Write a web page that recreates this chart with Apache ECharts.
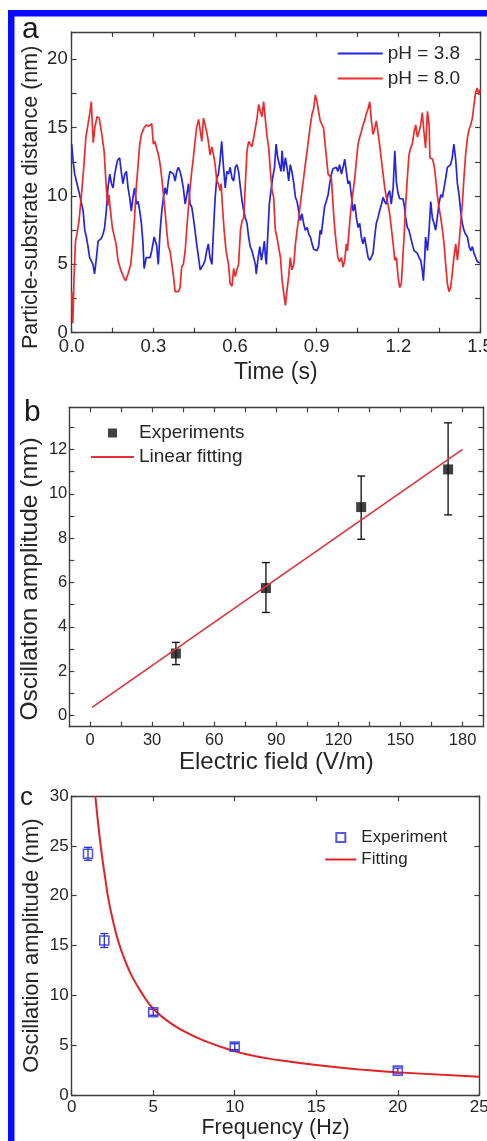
<!DOCTYPE html>
<html>
<head>
<meta charset="utf-8">
<script src="https://cdn.jsdelivr.net/npm/echarts@6/dist/echarts.min.js"></script>
<style>
  html, body { margin: 0; padding: 0; background: #ffffff; }
  #chart { width: 487px; height: 1141px; }
</style>
</head>
<body>
<div id="chart"></div>
<script>
// ---------- (a) particle–substrate distance vs time ----------
const tracePH38 = [
  [0.000,13.8],[0.005,12.6],[0.011,11.6],[0.017,11.5],[0.023,10.6],[0.029,10.1],[0.035,10.1],[0.042,8.9],
  [0.048,7.5],[0.054,7.0],[0.060,6.3],[0.066,5.5],[0.072,5.5],[0.078,5.0],[0.084,4.3],[0.091,5.5],
  [0.097,6.7],[0.103,6.7],[0.109,6.9],[0.115,7.2],[0.121,7.7],[0.127,8.9],[0.133,10.6],[0.140,11.6],
  [0.146,10.9],[0.152,10.6],[0.158,11.6],[0.168,12.6],[0.176,12.8],[0.182,11.8],[0.188,10.9],[0.195,11.6],
  [0.201,11.8],[0.207,10.6],[0.213,9.9],[0.219,8.9],[0.225,9.9],[0.231,10.6],[0.238,9.4],[0.244,9.6],
  [0.250,8.9],[0.256,8.0],[0.262,6.5],[0.266,4.7],[0.274,5.5],[0.280,5.4],[0.288,5.5],[0.294,6.0],
  [0.303,7.0],[0.312,6.4],[0.318,5.0],[0.325,7.5],[0.331,8.9],[0.337,9.9],[0.343,10.6],[0.349,10.1],
  [0.355,11.1],[0.361,11.8],[0.368,11.7],[0.374,11.6],[0.380,11.1],[0.386,11.8],[0.392,12.1],[0.398,11.8],
  [0.404,11.3],[0.410,10.6],[0.417,9.4],[0.423,10.1],[0.429,10.9],[0.435,9.4],[0.441,9.2],[0.447,8.4],
  [0.453,7.5],[0.459,6.5],[0.466,5.5],[0.472,4.6],[0.478,4.5],[0.484,5.0],[0.490,5.3],[0.496,6.0],
  [0.502,6.5],[0.508,5.5],[0.515,5.0],[0.521,7.5],[0.527,9.9],[0.533,11.3],[0.539,11.6],[0.545,12.6],
  [0.551,14.0],[0.557,12.3],[0.564,10.6],[0.570,11.8],[0.576,11.6],[0.582,12.1],[0.589,11.3],[0.595,11.1],
  [0.601,12.1],[0.607,12.3],[0.613,11.8],[0.620,10.6],[0.626,9.6],[0.632,8.9],[0.638,8.4],[0.644,8.0],
  [0.650,7.0],[0.656,6.3],[0.662,6.0],[0.669,6.0],[0.675,5.0],[0.678,4.3],[0.685,5.5],[0.691,6.3],
  [0.697,5.3],[0.703,6.0],[0.708,6.7],[0.712,5.5],[0.715,5.0],[0.720,7.0],[0.726,9.4],[0.732,10.4],
  [0.738,11.3],[0.745,12.1],[0.751,13.8],[0.757,12.8],[0.763,12.3],[0.769,11.8],[0.773,13.3],[0.779,11.8],
  [0.785,12.8],[0.791,12.1],[0.797,11.1],[0.803,12.3],[0.809,11.8],[0.816,10.9],[0.822,9.9],[0.828,9.6],
  [0.834,8.9],[0.840,8.2],[0.846,8.7],[0.852,8.0],[0.858,7.5],[0.865,7.7],[0.871,7.2],[0.877,7.0],
  [0.883,6.5],[0.889,6.1],[0.895,6.0],[0.901,6.0],[0.907,6.3],[0.913,7.5],[0.917,7.2],[0.923,8.2],
  [0.929,9.2],[0.935,9.6],[0.942,10.1],[0.948,10.9],[0.954,11.6],[0.960,12.0],[0.966,12.1],[0.972,12.1],
  [0.978,11.8],[0.984,12.3],[0.991,11.6],[0.997,12.1],[1.003,12.7],[1.009,11.8],[1.015,10.9],[1.021,11.1],
  [1.027,10.1],[1.034,8.9],[1.040,9.4],[1.046,8.4],[1.052,7.7],[1.058,8.0],[1.064,7.0],[1.070,6.5],
  [1.076,7.0],[1.082,6.3],[1.089,5.5],[1.095,5.3],[1.101,5.3],[1.107,5.8],[1.113,7.0],[1.119,8.0],
  [1.125,8.4],[1.131,8.9],[1.138,9.4],[1.144,9.9],[1.150,9.6],[1.156,9.4],[1.162,10.1],[1.168,10.4],
  [1.174,9.4],[1.181,10.6],[1.187,13.3],[1.193,11.0],[1.199,10.2],[1.205,9.8],[1.211,9.7],[1.217,9.8],
  [1.221,9.4],[1.227,8.4],[1.233,7.7],[1.239,7.5],[1.245,7.0],[1.251,6.5],[1.258,6.0],[1.264,5.9],
  [1.270,5.8],[1.276,5.5],[1.282,5.3],[1.288,4.6],[1.292,3.8],[1.297,5.5],[1.300,7.0],[1.307,6.0],
  [1.313,7.5],[1.319,9.6],[1.325,8.4],[1.331,8.0],[1.337,7.5],[1.343,8.4],[1.349,9.4],[1.356,10.1],
  [1.362,9.9],[1.368,10.6],[1.374,11.3],[1.380,12.1],[1.386,12.1],[1.392,12.3],[1.398,12.8],[1.404,13.8],
  [1.411,12.6],[1.417,10.9],[1.423,10.1],[1.429,8.9],[1.435,8.0],[1.441,7.5],[1.447,7.2],[1.454,7.0],
  [1.460,6.3],[1.466,6.0],[1.472,6.3],[1.478,5.8],[1.484,5.5],[1.490,5.2],[1.500,5.1]
];
const tracePH80 = [
  [0.000,3.0],[0.004,0.7],[0.009,4.3],[0.014,6.7],[0.020,7.3],[0.027,8.2],[0.033,9.5],[0.038,10.6],
  [0.045,12.3],[0.052,14.3],[0.058,15.0],[0.066,16.0],[0.072,16.9],[0.079,13.9],[0.085,15.0],[0.093,15.8],
  [0.101,15.7],[0.110,14.6],[0.119,13.3],[0.127,10.6],[0.133,9.3],[0.137,10.1],[0.141,9.2],[0.150,7.6],
  [0.163,6.5],[0.170,5.3],[0.180,4.6],[0.192,4.0],[0.198,3.8],[0.207,4.3],[0.217,5.0],[0.224,6.5],
  [0.231,8.4],[0.237,10.6],[0.244,12.3],[0.250,13.8],[0.256,14.5],[0.266,15.0],[0.274,15.2],[0.282,15.1],
  [0.288,15.2],[0.294,15.3],[0.300,13.8],[0.306,14.0],[0.312,13.5],[0.319,13.0],[0.325,12.3],[0.331,11.3],
  [0.337,10.1],[0.343,8.9],[0.349,7.5],[0.355,6.3],[0.361,6.0],[0.368,5.0],[0.374,4.1],[0.380,3.0],
  [0.386,3.1],[0.392,3.0],[0.398,3.3],[0.404,4.8],[0.410,5.0],[0.417,6.0],[0.423,7.7],[0.429,9.2],
  [0.435,10.6],[0.441,11.8],[0.447,12.8],[0.453,14.0],[0.459,15.0],[0.466,15.6],[0.472,15.5],[0.478,14.0],
  [0.484,15.7],[0.490,15.6],[0.496,14.7],[0.502,14.0],[0.508,13.0],[0.515,13.6],[0.521,13.0],[0.527,12.3],
  [0.533,11.1],[0.539,10.9],[0.545,10.4],[0.549,10.9],[0.554,9.2],[0.560,7.5],[0.567,6.0],[0.576,5.0],
  [0.582,3.6],[0.589,3.4],[0.595,4.7],[0.601,4.1],[0.607,4.6],[0.613,5.0],[0.620,7.5],[0.626,8.2],
  [0.632,8.4],[0.638,10.9],[0.644,13.3],[0.650,14.0],[0.656,13.8],[0.662,13.6],[0.669,14.3],[0.675,15.0],
  [0.681,15.7],[0.687,16.7],[0.693,16.2],[0.699,15.8],[0.705,16.9],[0.711,15.7],[0.718,14.3],[0.724,13.5],
  [0.730,11.8],[0.736,10.4],[0.742,9.9],[0.748,7.5],[0.754,7.0],[0.760,6.9],[0.767,5.5],[0.773,3.8],
  [0.779,2.9],[0.785,2.0],[0.791,3.1],[0.797,4.1],[0.803,5.5],[0.809,4.6],[0.816,5.0],[0.822,6.5],
  [0.828,7.5],[0.834,8.4],[0.840,9.4],[0.846,10.4],[0.852,11.3],[0.858,12.3],[0.865,13.3],[0.871,14.3],
  [0.877,15.2],[0.883,16.0],[0.889,16.4],[0.895,17.4],[0.901,16.9],[0.907,16.2],[0.913,15.5],[0.919,15.5],
  [0.925,15.0],[0.930,14.0],[0.936,12.8],[0.942,11.6],[0.948,11.5],[0.954,11.3],[0.960,9.4],[0.966,7.7],
  [0.972,6.5],[0.978,5.5],[0.984,5.2],[0.991,5.5],[0.997,4.8],[1.003,5.3],[1.009,6.5],[1.013,6.0],
  [1.019,7.5],[1.025,8.9],[1.031,9.9],[1.040,11.3],[1.046,12.6],[1.052,13.8],[1.058,14.3],[1.064,14.7],
  [1.070,15.2],[1.076,15.5],[1.082,16.0],[1.089,16.4],[1.095,16.9],[1.101,15.5],[1.107,14.5],[1.113,14.9],
  [1.119,15.5],[1.125,14.7],[1.131,13.8],[1.138,12.6],[1.144,11.6],[1.150,10.6],[1.156,9.9],[1.162,9.4],
  [1.168,8.7],[1.174,7.7],[1.181,6.5],[1.187,5.3],[1.193,5.5],[1.199,4.1],[1.205,3.3],[1.211,3.6],
  [1.215,5.0],[1.221,7.0],[1.227,9.4],[1.233,11.3],[1.239,13.0],[1.245,13.5],[1.251,13.8],[1.258,14.7],
  [1.264,15.2],[1.270,14.3],[1.276,14.7],[1.282,15.2],[1.288,16.1],[1.294,14.7],[1.300,13.5],[1.307,16.2],
  [1.313,15.2],[1.316,12.8],[1.325,12.7],[1.331,12.3],[1.337,11.3],[1.343,10.1],[1.349,9.2],[1.356,8.4],
  [1.362,7.5],[1.368,6.5],[1.374,5.0],[1.380,3.6],[1.386,3.0],[1.392,3.3],[1.398,4.3],[1.404,5.5],
  [1.411,6.5],[1.417,5.3],[1.423,6.5],[1.429,8.0],[1.435,9.4],[1.441,11.3],[1.447,13.0],[1.454,14.3],
  [1.460,14.9],[1.466,15.2],[1.472,15.7],[1.478,16.7],[1.484,17.6],[1.490,17.9],[1.496,17.4],[1.500,17.8]
];
const timeLabels = [0, 0.3, 0.6, 0.9, 1.2, 1.5];
const timeTicks = [0, 0.15, 0.3, 0.45, 0.6, 0.75, 0.9, 1.05, 1.2, 1.35, 1.5];
const distanceLabels = [0, 5, 10, 15, 20];
const distanceTicks = [0, 2.5, 5, 7.5, 10, 12.5, 15, 17.5, 20];

// ---------- (b) oscillation amplitude vs electric field ----------
const fieldValues = [41.5, 85, 131, 173];
const fieldAmplitude = [2.8, 5.75, 9.4, 11.1];
const fieldAmpLow = [2.3, 4.65, 7.95, 9.05];
const fieldAmpHigh = [3.3, 6.9, 10.8, 13.2];
const linearFitField = [1, 180];
const linearFitAmp = [0.37, 12.0];
const fieldLabels = [0, 30, 60, 90, 120, 150, 180];
const fieldTicks = [0, 15, 30, 45, 60, 75, 90, 105, 120, 135, 150, 165, 180];
const ampLabelsB = [0, 2, 4, 6, 8, 10, 12];
const ampTicksB = [0, 1, 2, 3, 4, 5, 6, 7, 8, 9, 10, 11, 12, 13];

// ---------- (c) oscillation amplitude vs frequency ----------
const frequency = [1, 2, 5, 10, 20];
const freqAmplitude = [24.2, 15.5, 8.3, 4.85, 2.45];
const freqAmpError = [0.65, 0.7, 0.3, 0.3, 0.25];
const fitFrequency = [1.45, 1.65, 1.85, 2.06, 2.26, 2.57, 2.88, 3.29, 3.70, 4.31, 4.92, 5.74, 6.76, 8.19, 9.97, 11.26, 12.28, 15, 18.1, 20, 25];
const fitAmplitude = [30, 26.8, 24.1, 21.7, 19.6, 17.2, 15.3, 13.4, 11.9, 10.2, 8.8, 7.6, 6.5, 5.4, 4.4, 3.9, 3.6, 3.0, 2.5, 2.27, 1.82];
const freqLabels = [0, 5, 10, 15, 20, 25];
const ampLabelsC = [0, 5, 10, 15, 20, 25, 30];

// ---------- styling ----------
const FONT = '"Liberation Sans", Arial, sans-serif';
const AXIS_COLOR = '#3e3e3e';
const TEXT_COLOR = '#262626';
const BLUE = '#2424e4';
const RED = '#ef2a2a';
const FIT_RED = '#e1303a';
const MARKER_BLUE = '#2a2ae0';
const SQUARE_ICON = 'path://M0,0H10V10H0Z';

const zip = (xs, ys) => xs.map((x, i) => [x, ys[i]]);

function frameAxis(o) {
  const ax = {
    type: 'value',
    gridIndex: o.grid,
    position: o.position,
    min: o.min,
    max: o.max,
    axisLine: { show: true, onZero: false, lineStyle: { color: AXIS_COLOR, width: 1.4 } },
    axisTick: { show: true, inside: true, length: 5, customValues: o.ticks,
                lineStyle: { color: AXIS_COLOR, width: 1.2 } },
    splitLine: { show: false },
    axisLabel: { show: false }
  };
  if (o.labels) {
    ax.axisLabel = {
      show: true, customValues: o.labels, formatter: o.format,
      fontSize: o.fontSize, margin: o.margin, color: TEXT_COLOR, fontFamily: FONT
    };
  }
  if (o.name) {
    ax.name = o.name;
    ax.nameLocation = 'middle';
    ax.nameGap = o.nameGap;
    ax.nameMoveOverlap = false;
    ax.nameTextStyle = { fontSize: o.nameSize, color: TEXT_COLOR, fontFamily: FONT,
                         padding: o.namePadding || 0 };
  }
  return ax;
}

const intFmt = v => String(Math.round(v));

function errorBars(color, capHalf, width) {
  return function (params, api) {
    const x = api.value(0);
    const top = api.coord([x, api.value(2)]);
    const bot = api.coord([x, api.value(1)]);
    const st = { stroke: color, lineWidth: width };
    return {
      type: 'group',
      children: [
        { type: 'line', shape: { x1: top[0], y1: top[1], x2: bot[0], y2: bot[1] }, style: st },
        { type: 'line', shape: { x1: top[0] - capHalf, y1: top[1], x2: top[0] + capHalf, y2: top[1] }, style: st },
        { type: 'line', shape: { x1: bot[0] - capHalf, y1: bot[1], x2: bot[0] + capHalf, y2: bot[1] }, style: st }
      ]
    };
  };
}

// line-only legend entries: hide the marker that line series add to their icon
const lineOnly = name => ({ name, itemStyle: { opacity: 0 } });

const chart = echarts.init(document.getElementById('chart'), null, { renderer: 'canvas' });

chart.setOption({
  animation: false,
  backgroundColor: '#ffffff',
  textStyle: { fontFamily: FONT },
  grid: [
    { left: 71.7, top: 32, width: 408.3, height: 300.7, outerBoundsMode: 'none' },
    { left: 69.3, top: 407.3, width: 414, height: 319.4, outerBoundsMode: 'none' },
    { left: 71.7, top: 796, width: 407.6, height: 299, outerBoundsMode: 'none' }
  ],
  xAxis: [
    frameAxis({ grid: 0, position: 'bottom', min: 0, max: 1.5, ticks: timeTicks, labels: timeLabels,
                format: v => v.toFixed(1), fontSize: 18.5, margin: 5,
                name: 'Time (s)', nameGap: 28, nameSize: 23 }),
    frameAxis({ grid: 0, position: 'top', min: 0, max: 1.5, ticks: timeTicks }),
    frameAxis({ grid: 1, position: 'bottom', min: -10, max: 190, ticks: fieldTicks, labels: fieldLabels,
                format: intFmt, fontSize: 16.5, margin: 5,
                name: 'Electric field (V/m)', nameGap: 24, nameSize: 24 }),
    frameAxis({ grid: 1, position: 'top', min: -10, max: 190, ticks: fieldTicks }),
    frameAxis({ grid: 2, position: 'bottom', min: 0, max: 25, ticks: freqLabels, labels: freqLabels,
                format: intFmt, fontSize: 17, margin: 4,
                name: 'Frequency (Hz)', nameGap: 22, nameSize: 21.5 }),
    frameAxis({ grid: 2, position: 'top', min: 0, max: 25, ticks: freqLabels })
  ],
  yAxis: [
    frameAxis({ grid: 0, position: 'left', min: 0, max: 22, ticks: distanceTicks, labels: distanceLabels,
                format: intFmt, fontSize: 18.5, margin: 4,
                name: 'Particle-substrate distance (nm)', nameGap: 30, nameSize: 21.5,
                namePadding: [0, 30, 0, 0] }),
    frameAxis({ grid: 0, position: 'right', min: 0, max: 22, ticks: distanceTicks }),
    frameAxis({ grid: 1, position: 'left', min: -0.5, max: 13.9, ticks: ampTicksB, labels: ampLabelsB,
                format: intFmt, fontSize: 16.5, margin: 2,
                name: 'Oscillation amplitude (nm)', nameGap: 27, nameSize: 24.5,
                namePadding: [0, 24, 0, 0] }),
    frameAxis({ grid: 1, position: 'right', min: -0.5, max: 13.9, ticks: ampTicksB }),
    frameAxis({ grid: 2, position: 'left', min: 0, max: 30, ticks: ampLabelsC, labels: ampLabelsC,
                format: intFmt, fontSize: 17, margin: 3,
                name: 'Oscillation amplitude (nm)', nameGap: 29, nameSize: 22 }),
    frameAxis({ grid: 2, position: 'right', min: 0, max: 30, ticks: ampLabelsC })
  ],
  legend: [
    { data: [lineOnly('pH = 3.8'), lineOnly('pH = 8.0')], orient: 'vertical', left: 331.7, top: 39,
      itemWidth: 45, itemHeight: 14, itemGap: 6, selectedMode: false,
      textStyle: { fontSize: 19, color: TEXT_COLOR, fontFamily: FONT } },
    { data: [{ name: 'Experiments', icon: SQUARE_ICON }, lineOnly('Linear fitting')],
      orient: 'vertical', left: 85, top: 418.5, itemWidth: 43, itemHeight: 9, itemGap: 5,
      selectedMode: false, symbolKeepAspect: true,
      textStyle: { fontSize: 19, color: TEXT_COLOR, fontFamily: FONT } },
    { data: [{ name: 'Experiment', icon: SQUARE_ICON }, lineOnly('Fitting')],
      orient: 'vertical', left: 319.3, top: 824, itemWidth: 31, itemHeight: 9, itemGap: 5,
      selectedMode: false, symbolKeepAspect: true,
      textStyle: { fontSize: 17, color: TEXT_COLOR, fontFamily: FONT } }
  ],
  graphic: [
    // frame strip along the top and left edges
    { type: 'rect', left: 8, top: 10, shape: { width: 479, height: 6.5 }, style: { fill: '#0a0aff' }, z: 100 },
    { type: 'rect', left: 8, top: 10, shape: { width: 6.5, height: 1131 }, style: { fill: '#0a0aff' }, z: 100 },
    // panel letters
    { type: 'text', style: { text: 'a', x: 22, y: 29.5, font: '30px ' + FONT, fill: '#1a1a1a', verticalAlign: 'middle' } },
    { type: 'text', style: { text: 'b', x: 24, y: 413, font: '30px ' + FONT, fill: '#1a1a1a', verticalAlign: 'middle' } },
    { type: 'text', style: { text: 'c', x: 20, y: 797.5, font: '26px ' + FONT, fill: '#1a1a1a', verticalAlign: 'middle' } }
  ],
  series: [
    { name: 'pH = 3.8', type: 'line', xAxisIndex: 0, yAxisIndex: 0, data: tracePH38,
      symbol: 'none', lineStyle: { color: BLUE, width: 1.7 }, itemStyle: { color: BLUE } },
    { name: 'pH = 8.0', type: 'line', xAxisIndex: 0, yAxisIndex: 0, data: tracePH80,
      symbol: 'none', lineStyle: { color: RED, width: 1.7 }, itemStyle: { color: RED } },

    { name: 'Experiments', type: 'scatter', xAxisIndex: 2, yAxisIndex: 2,
      data: zip(fieldValues, fieldAmplitude), symbol: 'rect', symbolSize: 10,
      itemStyle: { color: '#111111' } },
    { name: 'Experiments error', type: 'custom', xAxisIndex: 2, yAxisIndex: 2,
      data: fieldValues.map((x, i) => [x, fieldAmpLow[i], fieldAmpHigh[i]]),
      encode: { x: 0, y: [1, 2] }, renderItem: errorBars('#1a1a1a', 4, 1.4), z: 2 },
    { name: 'Linear fitting', type: 'line', xAxisIndex: 2, yAxisIndex: 2,
      data: zip(linearFitField, linearFitAmp), symbol: 'none',
      lineStyle: { color: FIT_RED, width: 1.6 }, itemStyle: { color: FIT_RED }, z: 3 },

    { name: 'Fitting', type: 'line', xAxisIndex: 4, yAxisIndex: 4,
      data: zip(fitFrequency, fitAmplitude), symbol: 'none', smooth: 0.5,
      lineStyle: { color: '#e02226', width: 2 }, itemStyle: { color: '#e02226' } },
    { name: 'Experiment error', type: 'custom', xAxisIndex: 4, yAxisIndex: 4,
      data: frequency.map((x, i) => [x, freqAmplitude[i] - freqAmpError[i], freqAmplitude[i] + freqAmpError[i]]),
      encode: { x: 0, y: [1, 2] }, renderItem: errorBars(MARKER_BLUE, 4, 1.3), z: 3 },
    { name: 'Experiment', type: 'scatter', xAxisIndex: 4, yAxisIndex: 4,
      data: zip(frequency, freqAmplitude), symbol: 'rect', symbolSize: 9,
      itemStyle: { color: 'rgba(255,255,255,0)', borderColor: MARKER_BLUE, borderWidth: 1.6 }, z: 4 }
  ]
});
</script>
</body>
</html>
